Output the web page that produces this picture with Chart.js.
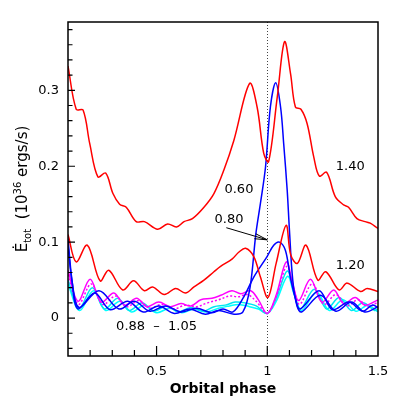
<!DOCTYPE html>
<html>
<head>
<meta charset="utf-8">
<script src="https://cdn.jsdelivr.net/npm/chart.js@4/dist/chart.umd.min.js"></script>
<style>
  html, body { margin: 0; padding: 0; background: #fff; }
</style>
</head>
<body>
<canvas id="myChart" width="399" height="399"></canvas>
<script>
// tick labels
const xTickLabels = [0.5, 1, 1.5];
const yTickLabels = [0, 0.1, 0.2, 0.3];

// 1.40 curve (red, upper)
const red140Phase = [0.10,0.137,0.168,0.198,0.235,0.27,0.303,0.333,0.363,0.408,0.445,0.505,0.55,0.59,0.624,0.662,0.714,0.759,0.804,0.849,0.92,0.954,0.984,1.006,1.045,1.078,1.105,1.127,1.152,1.18,1.21,1.235,1.268,1.307,1.345,1.367,1.405,1.442,1.465,1.5];
const red140 = [0.332,0.275,0.274,0.230,0.186,0.191,0.164,0.150,0.146,0.127,0.127,0.117,0.124,0.120,0.127,0.131,0.146,0.164,0.195,0.234,0.309,0.278,0.217,0.206,0.291,0.364,0.322,0.278,0.275,0.256,0.212,0.187,0.192,0.160,0.149,0.146,0.131,0.127,0.125,0.118];

// 1.20 curve (red, lower)
const red120Phase = [0.10,0.137,0.187,0.245,0.284,0.347,0.396,0.445,0.482,0.535,0.586,0.63,0.669,0.714,0.759,0.789,0.842,0.872,0.902,0.939,0.969,1.003,1.04,1.085,1.106,1.136,1.175,1.228,1.264,1.324,1.361,1.421,1.451,1.5];
const red120 = [0.110,0.074,0.096,0.049,0.063,0.037,0.049,0.036,0.041,0.031,0.039,0.033,0.041,0.050,0.061,0.068,0.078,0.087,0.092,0.081,0.054,0.027,0.072,0.122,0.083,0.072,0.096,0.050,0.061,0.037,0.046,0.035,0.039,0.035];

// 0.60 curve (blue, tall peak)
const blue060Phase = [0.10,0.118,0.145,0.22,0.29,0.37,0.44,0.51,0.58,0.65,0.72,0.78,0.85,0.89,0.922,0.948,0.969,0.992,1.014,1.038,1.06,1.074,1.09,1.10,1.115,1.135,1.155,1.24,1.31,1.38,1.44,1.5];
const blue060 = [0.105,0.050,0.012,0.033,0.011,0.022,0.008,0.016,0.006,0.012,0.005,0.010,0.005,0.008,0.040,0.110,0.151,0.199,0.278,0.310,0.278,0.230,0.168,0.116,0.050,0.015,0.008,0.030,0.009,0.021,0.008,0.015];

// 0.80 curve (blue, small peak)
const blue080Phase = [0.10,0.12,0.15,0.24,0.33,0.40,0.47,0.54,0.61,0.68,0.75,0.80,0.845,0.894,0.939,0.999,1.029,1.055,1.082,1.104,1.127,1.148,1.234,1.294,1.369,1.43,1.474,1.5];
const blue080 = [0.095,0.045,0.014,0.036,0.012,0.022,0.009,0.016,0.008,0.013,0.007,0.012,0.008,0.028,0.054,0.081,0.096,0.100,0.089,0.054,0.026,0.012,0.036,0.011,0.021,0.009,0.017,0.014];

// 0.88 - 1.05 bundle
const mag088Phase = [0.10,0.145,0.200,0.250,0.307,0.356,0.410,0.457,0.510,0.562,0.610,0.655,0.70,0.75,0.79,0.84,0.88,0.925,0.96,1.0,1.04,1.086,1.115,1.142,1.195,1.247,1.30,1.345,1.397,1.442,1.5];
const mag088 = [0.063,0.022,0.051,0.021,0.033,0.017,0.026,0.015,0.021,0.015,0.019,0.016,0.024,0.026,0.030,0.036,0.032,0.036,0.024,0.006,0.030,0.074,0.045,0.023,0.051,0.021,0.037,0.019,0.027,0.017,0.024];

const mag092Phase = [0.10,0.147,0.205,0.257,0.315,0.365,0.42,0.47,0.525,0.578,0.63,0.68,0.73,0.78,0.83,0.87,0.91,0.95,1.0,1.04,1.088,1.118,1.146,1.203,1.256,1.31,1.358,1.41,1.455,1.5];
const mag092 = [0.057,0.018,0.045,0.018,0.029,0.015,0.023,0.013,0.018,0.012,0.017,0.015,0.020,0.024,0.029,0.028,0.031,0.022,0.006,0.028,0.068,0.040,0.018,0.045,0.018,0.031,0.016,0.024,0.015,0.021];

const cyan100Phase = [0.10,0.15,0.21,0.264,0.325,0.376,0.435,0.488,0.545,0.598,0.655,0.71,0.76,0.81,0.855,0.90,0.95,1.0,1.04,1.09,1.12,1.15,1.212,1.268,1.325,1.38,1.432,1.485,1.5];
const cyan100 = [0.050,0.013,0.040,0.012,0.026,0.010,0.020,0.009,0.016,0.008,0.014,0.009,0.015,0.017,0.021,0.020,0.016,0.006,0.026,0.062,0.035,0.012,0.038,0.012,0.027,0.010,0.020,0.010,0.012];

const cyan105Phase = [0.10,0.152,0.215,0.27,0.335,0.387,0.445,0.50,0.56,0.614,0.67,0.725,0.78,0.83,0.87,0.92,0.96,1.0,1.04,1.092,1.12,1.155,1.222,1.28,1.342,1.40,1.455,1.5];
const cyan105 = [0.045,0.010,0.036,0.010,0.022,0.008,0.017,0.007,0.013,0.007,0.012,0.008,0.013,0.016,0.018,0.015,0.012,0.006,0.022,0.055,0.032,0.010,0.034,0.010,0.024,0.009,0.017,0.008];

// curve labels: [text, phase, value]
const curveLabels = [
  ['1.40', 1.375, 0.199],
  ['0.60', 0.872, 0.169],
  ['0.80', 0.827, 0.129],
  ['1.20', 1.375, 0.069],
  ['0.88  \u2013  1.05', 0.50, -0.011]
];
const arrowFrom = [0.815, 0.119];
const arrowTo = [1.0, 0.103];

const FONT = "'DejaVu Sans', sans-serif";

function pts(ph, val) {
  return ph.map((p, i) => ({x: p, y: val[i]}));
}

function line(data, color, dash) {
  return {
    data: data,
    borderColor: color,
    borderWidth: 1.5,
    borderDash: dash || [],
    pointRadius: 0,
    fill: false,
    tension: 0.35
  };
}

const data = {
  datasets: [
    line(pts(red140Phase, red140), '#ff0000'),
    line(pts(red120Phase, red120), '#ff0000'),
    line(pts(blue060Phase, blue060), '#0000ff'),
    line(pts(blue080Phase, blue080), '#0000ff'),
    line(pts(mag088Phase, mag088), '#ff00ff'),
    line(pts(mag092Phase, mag092), '#ff00ff', [2, 2]),
    line(pts(cyan100Phase, cyan100), '#00e8f0'),
    line(pts(cyan105Phase, cyan105), '#00ffff')
  ]
};

// frame, inner ticks, dotted line, labels and axis titles
const decor = {
  id: 'decor',
  beforeDatasetsDraw(chart) {
    const ctx = chart.ctx, a = chart.chartArea;
    const x1 = chart.scales.x.getPixelForValue(1);
    ctx.save();
    ctx.strokeStyle = '#444';
    ctx.lineWidth = 1;
    ctx.setLineDash([1, 2]);
    ctx.beginPath();
    ctx.moveTo(Math.round(x1) + 0.5, a.top);
    ctx.lineTo(Math.round(x1) + 0.5, a.bottom);
    ctx.stroke();
    ctx.restore();
  },
  afterDatasetsDraw(chart) {
    const ctx = chart.ctx, a = chart.chartArea;
    const xs = chart.scales.x, ys = chart.scales.y;
    ctx.save();
    ctx.strokeStyle = '#000';
    ctx.lineWidth = 1.5;
    ctx.strokeRect(a.left, a.top, a.right - a.left, a.bottom - a.top);

    ctx.lineWidth = 1.2;
    ctx.beginPath();
    for (let i = -2; i <= 19; i++) {
      const v = i * 0.02;
      const y = ys.getPixelForValue(v);
      const len = (i % 5 === 0) ? 7 : 4.5;
      ctx.moveTo(a.left, y);
      ctx.lineTo(a.left + len, y);
    }
    for (let i = 2; i <= 14; i++) {
      const x = xs.getPixelForValue(i / 10);
      const len = (i % 5 === 0) ? 10 : 6;
      ctx.moveTo(x, a.bottom);
      ctx.lineTo(x, a.bottom - len);
    }
    ctx.stroke();

    // labels on the curves
    ctx.fillStyle = '#000';
    ctx.font = '13px ' + FONT;
    ctx.textAlign = 'center';
    ctx.textBaseline = 'middle';
    curveLabels.forEach(l => {
      ctx.fillText(l[0], xs.getPixelForValue(l[1]), ys.getPixelForValue(l[2]));
    });

    // arrow for 0.80
    const ax0 = xs.getPixelForValue(arrowFrom[0]), ay0 = ys.getPixelForValue(arrowFrom[1]);
    const ax1 = xs.getPixelForValue(arrowTo[0]), ay1 = ys.getPixelForValue(arrowTo[1]);
    const ang = Math.atan2(ay1 - ay0, ax1 - ax0);
    ctx.lineWidth = 1;
    ctx.beginPath();
    ctx.moveTo(ax0, ay0);
    ctx.lineTo(ax1, ay1);
    [0.2, -0.2].forEach(d => {
      ctx.moveTo(ax1, ay1);
      ctx.lineTo(ax1 - 13 * Math.cos(ang + d), ay1 - 13 * Math.sin(ang + d));
    });
    ctx.stroke();

    // x title
    ctx.font = 'bold 14px ' + FONT;
    ctx.textBaseline = 'alphabetic';
    ctx.fillText('Orbital phase', (a.left + a.right) / 2, 393);

    // y title with sub/superscripts
    const parts = [
      ['\u0116', 15, 0],
      ['tot', 10, 4],
      ['  (10', 15, 0],
      ['36', 10, -6],
      [' ergs/s)', 15, 0]
    ];
    let total = 0;
    parts.forEach(p => { ctx.font = p[1] + 'px ' + FONT; total += ctx.measureText(p[0]).width; });
    ctx.translate(27, (a.top + a.bottom) / 2);
    ctx.rotate(-Math.PI / 2);
    ctx.textAlign = 'left';
    let pos = -total / 2;
    parts.forEach(p => {
      ctx.font = p[1] + 'px ' + FONT;
      ctx.fillText(p[0], pos, p[2]);
      pos += ctx.measureText(p[0]).width;
    });
    ctx.restore();
  }
};

const config = {
  type: 'line',
  data: data,
  options: {
    responsive: false,
    animation: false,
    layout: { padding: { left: 0, right: 21, top: 22, bottom: 0 } },
    plugins: { legend: { display: false }, tooltip: { enabled: false } },
    scales: {
      x: {
        type: 'linear', min: 0.1, max: 1.5,
        grid: { display: false, drawTicks: false },
        border: { display: false },
        ticks: { color: '#000', font: { family: FONT, size: 13 }, padding: 8, maxRotation: 0, autoSkip: false, callback: v => String(v) },
        afterBuildTicks: s => { s.ticks = xTickLabels.map(v => ({ value: v })); },
        afterFit: s => { s.height = 43; }
      },
      y: {
        type: 'linear', min: -0.05, max: 0.39,
        grid: { display: false, drawTicks: false },
        border: { display: false },
        ticks: { color: '#000', font: { family: FONT, size: 13 }, padding: 9, autoSkip: false, callback: v => String(v) },
        afterBuildTicks: s => { s.ticks = yTickLabels.map(v => ({ value: v })); },
        afterFit: s => { s.width = 68; }
      }
    }
  },
  plugins: [decor]
};

const myChart = new Chart(document.getElementById('myChart'), config);
</script>
</body>
</html>
